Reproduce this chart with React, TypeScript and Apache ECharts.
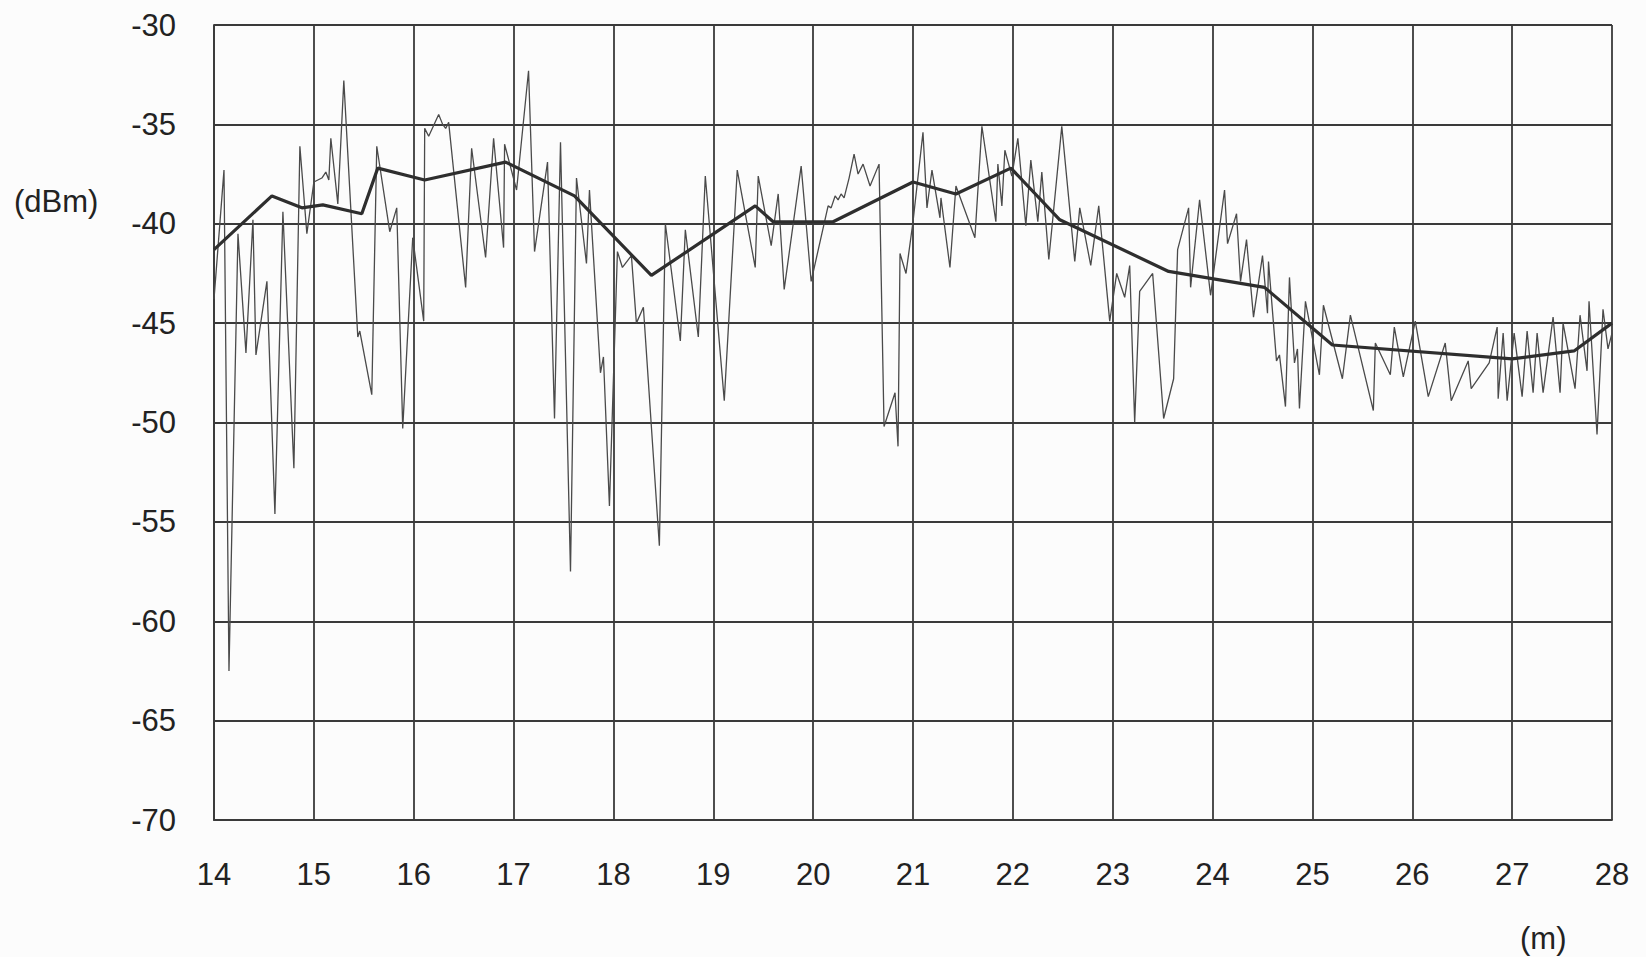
import React, { useEffect, useRef } from "react";
import * as echarts from "echarts";

// Measured received power (thin line): distance (m) and level (dBm)
const rawDistance = [
  14.0, 14.1, 14.15, 14.24, 14.32, 14.39, 14.42, 14.53, 14.61, 14.69, 14.8, 14.86, 14.93, 15.0, 15.08, 15.12, 15.15, 15.17, 15.24, 15.3,
  15.44, 15.46, 15.58, 15.63, 15.76, 15.83, 15.89, 15.99, 16.1, 16.11, 16.15, 16.25, 16.29, 16.32, 16.35, 16.52, 16.58, 16.72, 16.8, 16.84,
  16.9, 16.91, 17.03, 17.15, 17.21, 17.34, 17.41, 17.47, 17.57, 17.63, 17.73, 17.76, 17.87, 17.9, 17.96, 18.04, 18.09, 18.18, 18.23, 18.3,
  18.46, 18.52, 18.67, 18.72, 18.85, 18.92, 19.11, 19.24, 19.42, 19.45, 19.58, 19.65, 19.71, 19.88, 19.98, 20.15, 20.18, 20.22, 20.25, 20.28,
  20.31, 20.36, 20.41, 20.45, 20.5, 20.57, 20.66, 20.71, 20.82, 20.85, 20.87, 20.93, 21.0, 21.1, 21.14, 21.19, 21.27, 21.28, 21.37, 21.43,
  21.62, 21.69, 21.83, 21.85, 21.89, 21.92, 21.99, 22.05, 22.13, 22.18, 22.25, 22.29, 22.36, 22.49, 22.62, 22.67, 22.78, 22.86, 22.97, 23.04,
  23.12, 23.17, 23.22, 23.27, 23.4, 23.51, 23.61, 23.65, 23.76, 23.78, 23.87, 23.98, 24.12, 24.15, 24.24, 24.28, 24.34, 24.41, 24.5, 24.55,
  24.56, 24.64, 24.67, 24.73, 24.77, 24.82, 24.85, 24.87, 24.93, 25.07, 25.11, 25.3, 25.38, 25.61, 25.63, 25.78, 25.82, 25.91, 26.03, 26.16,
  26.33, 26.39, 26.56, 26.59, 26.77, 26.85, 26.86, 26.91, 26.95, 27.02, 27.1, 27.15, 27.21, 27.25, 27.31, 27.41, 27.48, 27.51, 27.63, 27.68,
  27.75, 27.77, 27.85, 27.91, 27.96, 28.0,
];
const rawLevel = [
  -43.8, -37.3, -62.5, -40.5, -46.5, -39.8, -46.6, -42.9, -54.6, -39.4, -52.3, -36.1, -40.5, -37.9, -37.7, -37.4, -37.8, -35.7, -39.0, -32.8,
  -45.7, -45.4, -48.6, -36.1, -40.4, -39.2, -50.3, -40.7, -44.9, -35.2, -35.6, -34.5, -35.0, -35.2, -34.9, -43.2, -36.2, -41.7, -35.7, -37.9,
  -41.2, -36.0, -38.3, -32.3, -41.4, -36.9, -49.8, -35.9, -57.5, -37.7, -42.0, -38.3, -47.5, -46.7, -54.2, -41.4, -42.2, -41.6, -45.0, -44.2,
  -56.2, -40.0, -45.9, -40.3, -45.7, -37.6, -48.9, -37.3, -42.2, -37.6, -41.1, -38.5, -43.3, -37.1, -42.9, -39.1, -39.2, -38.6, -38.8, -38.5,
  -38.7, -37.7, -36.5, -37.5, -37.0, -38.1, -37.0, -50.2, -48.5, -51.2, -41.5, -42.5, -39.9, -35.4, -39.2, -37.3, -39.7, -38.7, -42.2, -38.1,
  -40.7, -35.1, -39.9, -37.0, -39.1, -36.3, -37.6, -35.7, -40.1, -36.8, -39.9, -37.4, -41.8, -35.1, -41.9, -39.2, -42.1, -39.1, -44.9, -42.5,
  -43.7, -42.1, -50.0, -43.4, -42.5, -49.8, -47.8, -41.3, -39.2, -43.2, -38.8, -43.6, -38.3, -41.0, -39.5, -42.9, -40.8, -44.7, -41.6, -44.5,
  -41.9, -46.9, -46.6, -49.2, -42.7, -47.0, -46.3, -49.3, -43.9, -47.6, -44.1, -47.8, -44.6, -49.4, -46.0, -47.6, -45.2, -47.7, -44.9, -48.7,
  -46.0, -48.9, -46.9, -48.3, -47.0, -45.2, -48.8, -45.5, -48.9, -45.5, -48.7, -45.4, -48.5, -45.5, -48.5, -44.7, -48.5, -45.0, -48.3, -44.6,
  -47.4, -43.9, -50.6, -44.3, -46.3, -45.5,
];

// Averaged level (thick line)
const meanDistance = [14.0, 14.58, 14.88, 15.09, 15.48, 15.64, 16.11, 16.92, 17.61, 18.38, 19.42, 19.6, 20.2, 21.0, 21.43, 21.98, 22.47, 23.56, 24.52, 25.2, 27.0, 27.62, 28.0];
const meanLevel = [-41.3, -38.6, -39.2, -39.05, -39.5, -37.2, -37.8, -36.9, -38.6, -42.6, -39.1, -39.9, -39.9, -37.9, -38.5, -37.2, -39.8, -42.4, -43.2, -46.1, -46.8, -46.4, -45.0];

const yUnit = "(dBm)";
const xUnit = "(m)";

export default function App() {
  const ref = useRef<HTMLDivElement>(null);
  useEffect(() => {
    if (!ref.current) return;
    const chart = echarts.init(ref.current, null, { renderer: "svg" });
    const font = "'Liberation Sans', Arial, sans-serif";
    const labelStyle = { color: "#222", fontSize: 31, fontFamily: font };
    chart.setOption({
      animation: false,
      backgroundColor: "#fcfcfc",
      grid: { left: 214, top: 25, width: 1398, height: 795, containLabel: false },
      xAxis: {
        type: "value",
        min: 14,
        max: 28,
        interval: 1,
        axisLine: { show: true, lineStyle: { color: "#3a3a3a", width: 1.8 } },
        axisTick: { show: false },
        splitLine: { show: true, lineStyle: { color: "#3a3a3a", width: 1.8 } },
        axisLabel: { ...labelStyle, margin: 39 },
      },
      yAxis: {
        type: "value",
        min: -70,
        max: -30,
        interval: 5,
        axisLine: { show: true, lineStyle: { color: "#3a3a3a", width: 1.8 } },
        axisTick: { show: false },
        splitLine: { show: true, lineStyle: { color: "#3a3a3a", width: 1.8 } },
        axisLabel: { ...labelStyle, margin: 38 },
      },
      graphic: [
        { type: "text", left: 14, top: 186, style: { text: yUnit, fill: "#222", font: `31px ${font}` } },
        { type: "text", left: 1520, top: 923, style: { text: xUnit, fill: "#222", font: `31px ${font}` } },
      ],
      series: [
        {
          type: "line",
          symbol: "none",
          data: rawDistance.map((d, i) => [d, rawLevel[i]]),
          lineStyle: { color: "#4a4a4a", width: 1.3 },
          z: 2,
        },
        {
          type: "line",
          symbol: "none",
          data: meanDistance.map((d, i) => [d, meanLevel[i]]),
          lineStyle: { color: "#2e2e2e", width: 3.2 },
          z: 3,
        },
      ],
    });
    return () => chart.dispose();
  }, []);
  return <div ref={ref} style={{ position: "absolute", left: 0, top: 0, width: 1646, height: 957 }} />;
}
